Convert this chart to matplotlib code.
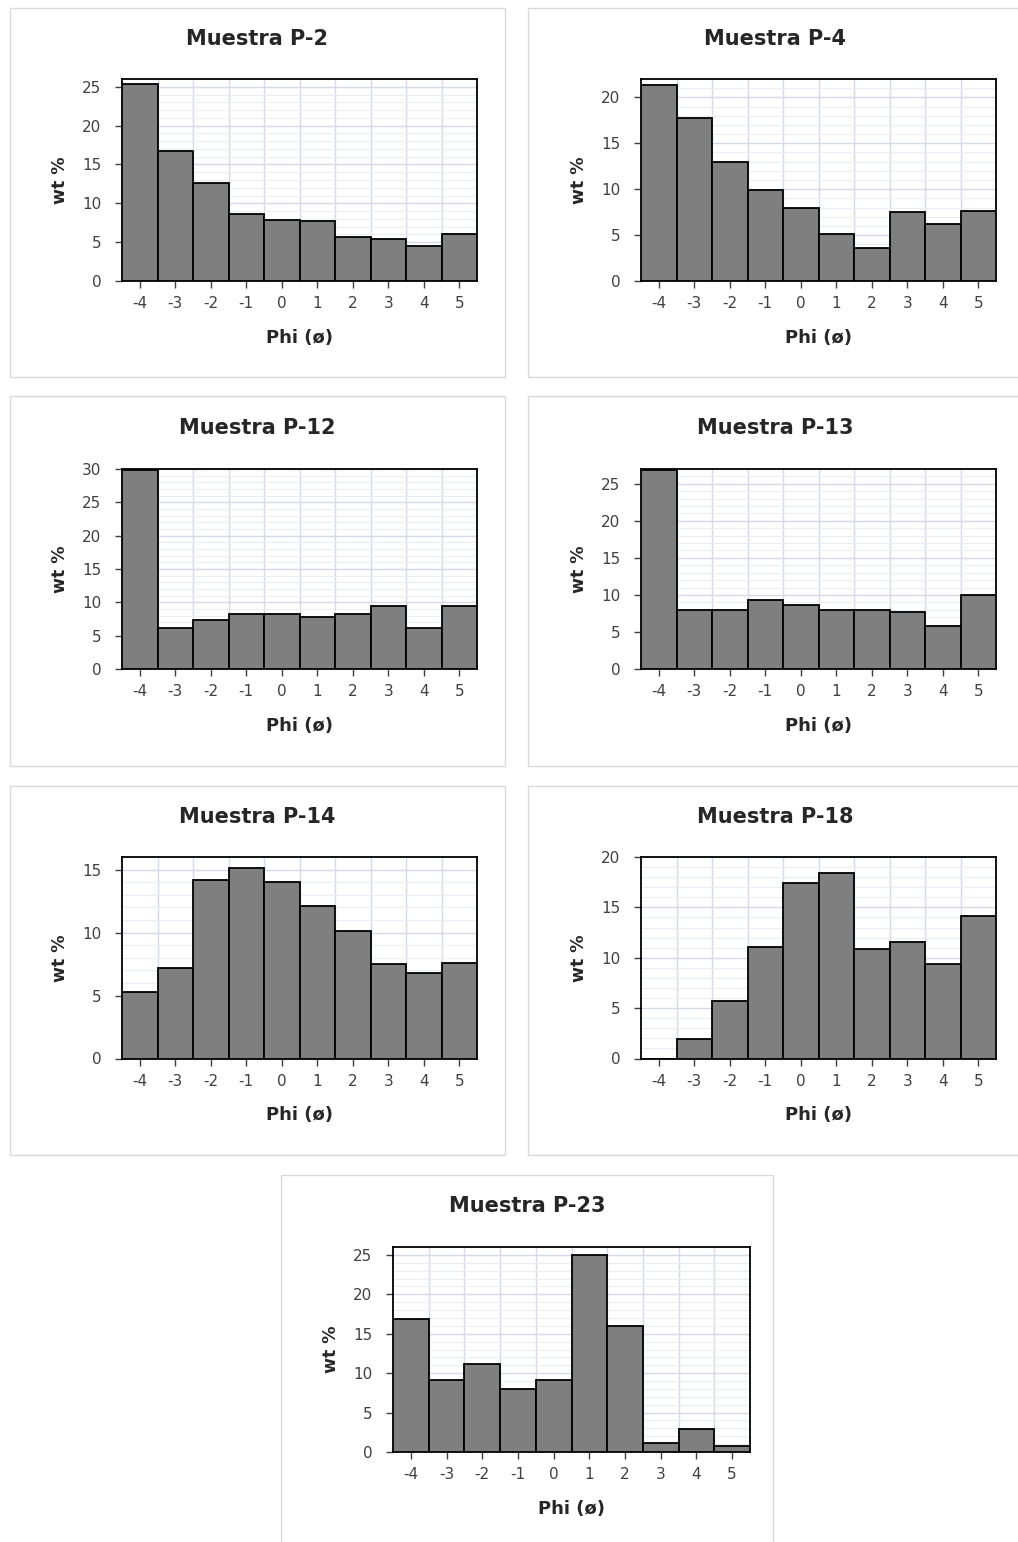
import matplotlib
matplotlib.use("Agg")
import matplotlib.pyplot as plt
from matplotlib.patches import Rectangle
from matplotlib.ticker import MultipleLocator, FixedLocator

plt.rcParams["font.family"] = ["DejaVu Sans"]
plt.rcParams["axes.unicode_minus"] = False

# Phi size classes
phi = [-4, -3, -2, -1, 0, 1, 2, 3, 4, 5]

# Weight percent per class for each sample
p2 = [25.4, 16.7, 12.6, 8.6, 7.9, 7.7, 5.6, 5.4, 4.5, 6.1]
p4 = [21.3, 17.7, 13.0, 9.9, 8.0, 5.1, 3.6, 7.5, 6.2, 7.6]
p12 = [29.8, 6.2, 7.3, 8.3, 8.3, 7.8, 8.3, 9.4, 6.2, 9.4]
p13 = [26.8, 7.9, 7.9, 9.3, 8.6, 7.9, 7.9, 7.7, 5.8, 10.0]
p14 = [5.3, 7.2, 14.2, 15.1, 14.0, 12.1, 10.1, 7.5, 6.8, 7.6]
p18 = [0.0, 1.9, 5.7, 11.1, 17.4, 18.4, 10.9, 11.6, 9.4, 14.1]
p23 = [16.9, 9.1, 11.1, 8.0, 9.1, 25.0, 16.0, 1.1, 2.9, 0.7]

titles = ["Muestra P-2", "Muestra P-4", "Muestra P-12", "Muestra P-13",
          "Muestra P-14", "Muestra P-18", "Muestra P-23"]
series = [p2, p4, p12, p13, p14, p18, p23]
y_max = [26, 22, 30, 27, 16, 20, 26]

W, H = 1018, 1542
fig = plt.figure(figsize=(W / 100, H / 100), dpi=100)
fig.patch.set_facecolor("white")


def fig_box(left, top, right, bottom):
    return [left / W, 1 - bottom / H, (right - left) / W, (bottom - top) / H]


# panel frames (left, top, right, bottom) in pixels
panels = [
    (10, 8, 505, 377), (528, 8, 1022, 377),
    (10, 396, 505, 766), (528, 396, 1022, 766),
    (10, 786, 505, 1155), (528, 786, 1022, 1155),
    (281, 1175, 773, 1560),
]
# plot areas inside each panel
plot_areas = [
    (122, 79, 477, 281), (641, 79, 996, 281),
    (122, 469, 477, 669), (641, 469, 996, 669),
    (122, 857, 477, 1058.5), (641, 857, 996, 1058.5),
    (393, 1247, 750, 1452),
]
title_y = [39, 39, 428, 428, 817, 817, 1206]

grid_major = "#d3dbe8"
grid_minor = "#e9edf4"
text_dark = "#262626"
tick_grey = "#404040"

for i in range(7):
    pl, pt, pr, pb = panels[i]
    fig.patches.append(Rectangle((pl / W, 1 - pb / H), (pr - pl) / W, (pb - pt) / H,
                                 transform=fig.transFigure, fill=False,
                                 edgecolor="#d9d9d9", linewidth=1.0))
    fig.text((pl + pr) / 2 / W, 1 - title_y[i] / H, titles[i], ha="center", va="center",
             fontsize=15, fontweight="bold", color=text_dark)

    al, at, ar, ab = plot_areas[i]
    ax = fig.add_axes(fig_box(al, at, ar, ab))
    ax.set_facecolor("white")
    ax.bar(phi, series[i], width=1.0, color="#7f7f7f", edgecolor="black",
           linewidth=1.3, zorder=3)
    ax.set_xlim(-4.5, 5.5)
    ax.set_ylim(0, y_max[i])

    ax.xaxis.set_major_locator(FixedLocator(phi))
    ax.xaxis.set_minor_locator(FixedLocator([p + 0.5 for p in phi[:-1]]))
    ax.yaxis.set_major_locator(MultipleLocator(5))
    ax.yaxis.set_minor_locator(MultipleLocator(1))

    ax.grid(False)
    ax.xaxis.grid(True, which="minor", color=grid_major, linewidth=1.0, zorder=0)
    ax.yaxis.grid(True, which="major", color=grid_major, linewidth=1.0, zorder=0)
    ax.yaxis.grid(True, which="minor", color=grid_minor, linewidth=0.8, zorder=0)
    ax.set_axisbelow(True)

    ax.tick_params(axis="both", which="major", direction="out", length=5,
                   width=1.0, color=tick_grey, labelsize=11, labelcolor=tick_grey)
    ax.tick_params(axis="both", which="minor", length=0)
    ax.tick_params(axis="x", pad=6)
    ax.tick_params(axis="y", pad=10)

    for side in ["top", "right", "left", "bottom"]:
        ax.spines[side].set_color("black")
        ax.spines[side].set_linewidth(1.3)

    w_px, h_px = ar - al, ab - at
    ax.set_xlabel("Phi (ø)", fontsize=13, fontweight="bold", color=text_dark)
    ax.xaxis.set_label_coords(0.5, -57 / h_px)
    ax.xaxis.label.set_va("center")
    ax.set_ylabel("wt %", fontsize=12.5, fontweight="bold", color=text_dark)
    ax.yaxis.set_label_coords(-62 / w_px, 0.5)
    ax.yaxis.label.set_va("center")

fig.savefig("out.png", dpi=100, facecolor="white")
